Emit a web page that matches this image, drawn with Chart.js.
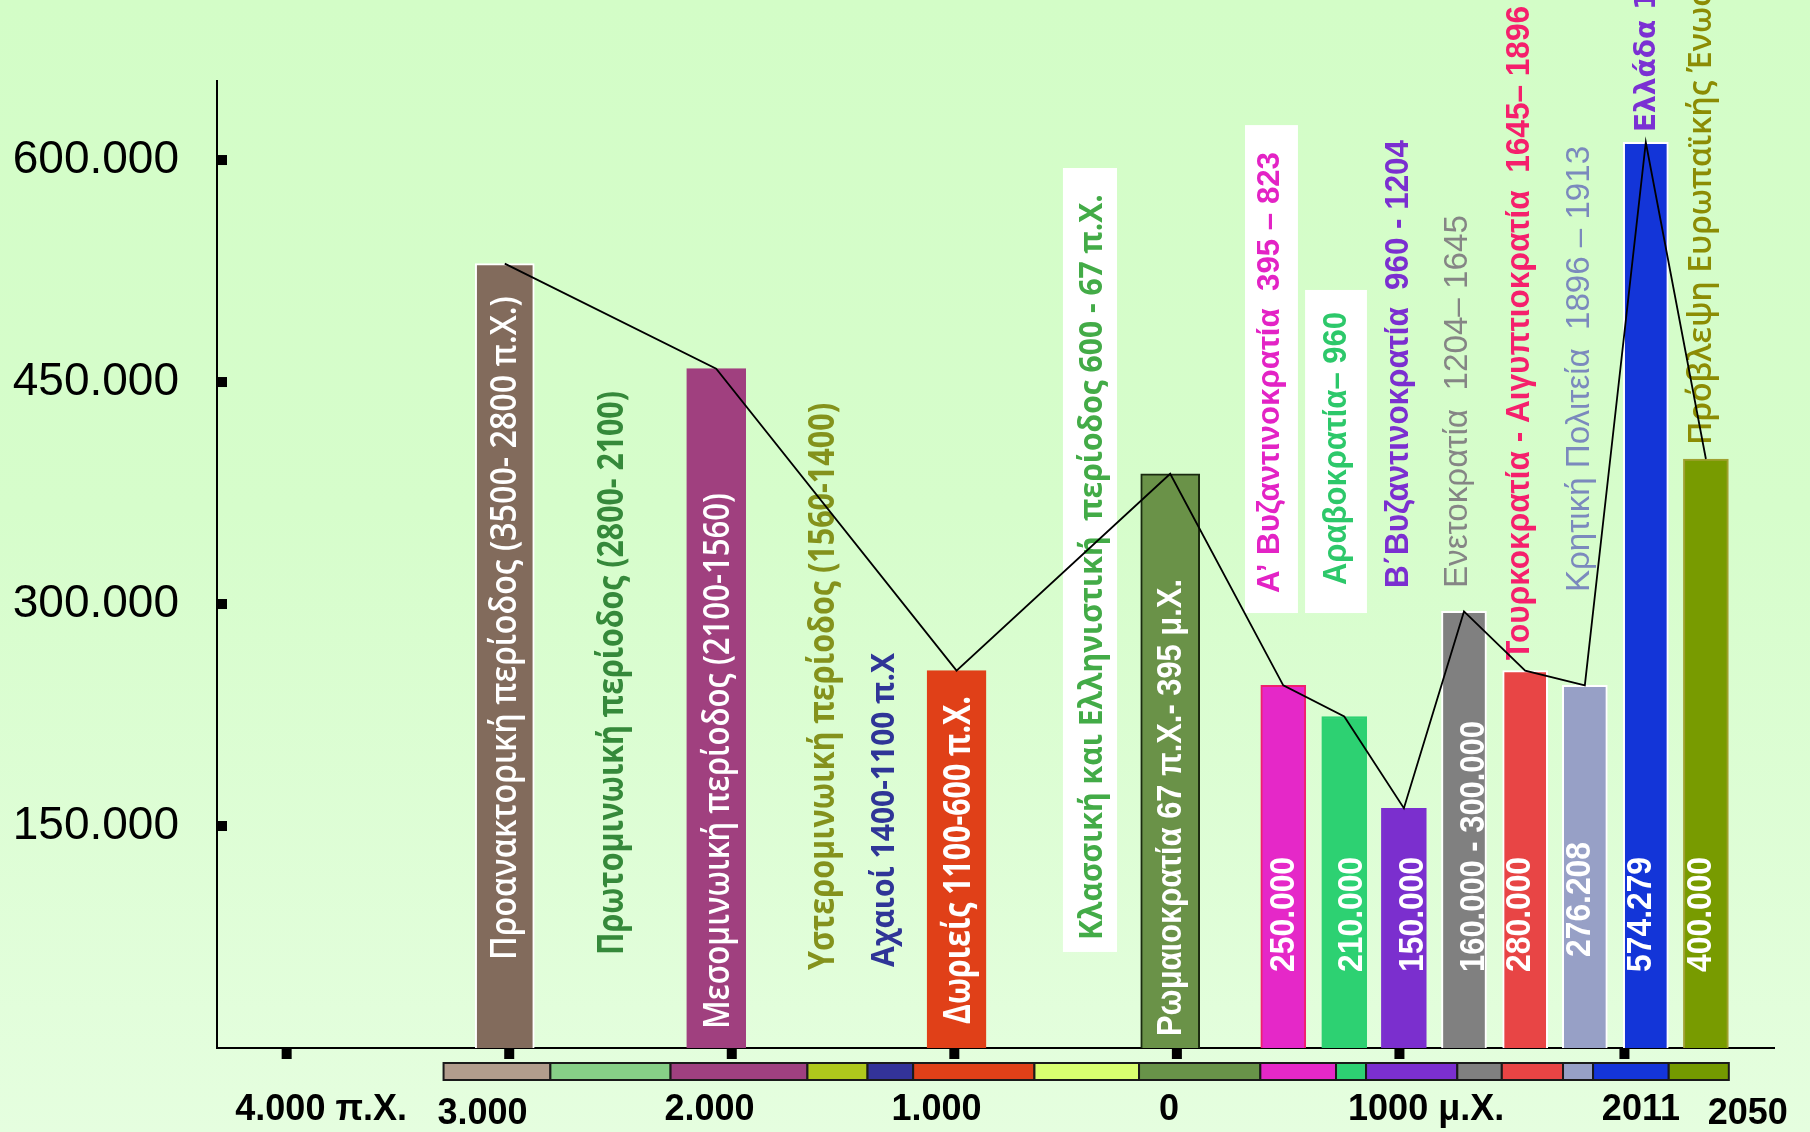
<!DOCTYPE html>
<html lang="el">
<head>
<meta charset="UTF-8">
<title>Πληθυσμός της Κρήτης</title>
<script src="https://cdn.jsdelivr.net/npm/chart.js"></script>
<style>
  html, body { margin: 0; padding: 0; }
  body {
    width: 1810px; height: 1132px; overflow: hidden;
    background: linear-gradient(to bottom, #d3fdc7 0%, #d6fdcb 45%, #e5fedf 100%);
  }
  canvas { display: block; }
</style>
</head>
<body>
<canvas id="popChart" width="1810" height="1132"></canvas>
<script>
// bars: position along the timeline (as drawn) and height
const periods = ['Προανακτορική', 'Μεσομινωική', 'Δωριείς', 'Ρωμαιοκρατία',
                 'Α΄ Βυζαντινοκρατία', 'Αραβοκρατία', 'Β΄ Βυζαντινοκρατία', 'Ενετοκρατία',
                 'Τουρκοκρατία', 'Κρητική Πολιτεία', 'Ελλάδα 2011', 'Πρόβλεψη 2050'];
const timeline = [-3020, -2070, -990, -30, 478, 752, 1020, 1290, 1565, 1833, 2107, 2377];
const population = [530000, 459000, 255000, 388000, 245000, 224000, 162000, 295000, 255000, 245000, 612000, 398000];
const valueLabels = ['', '', '', '', '250.000', '210.000', '150.000', '160.000 - 300.000',
                     '280.000', '276.208', '574.279', '400.000'];

const barColors = ['#826b5c', '#a0407f', '#e04018', '#6a9248', '#e528c8', '#2dd172',
                   '#7b2fce', '#808080', '#e84545', '#97a0c6', '#1335d8', '#789b00'];
const barBorders = ['#ffffff', '#a0407f', '#e04018', '#1a2a10', '#f0206e', '#2dd172',
                    '#7b2fce', '#ffffff', '#ffffff', '#ffffff', '#ffffff', '#a0a030'];

const yTicks = [150000, 300000, 450000, 600000];
const xTickYears = [-4000, -3000, -2000, -1000, 0, 1000, 2011];
const xLabels = ['4.000 π.Χ.', '3.000', '2.000', '1.000', '0', '1000 μ.Χ.', '2011', '2050'];
const xLabelAt = [-3845, -3120, -2100, -1080, -35, 1120, 2085, 2565];

// coloured period strip under the axis
const stripEdges = [-3295, -2815, -2275, -1660, -1390, -1185, -640, -170, 375, 715, 850,
                    1260, 1460, 1735, 1870, 2210, 2480];
const stripColors = ['#b29d8d', '#87cf87', '#9f4080', '#afc81c', '#333399', '#e04018',
                     '#d9ff70', '#689349', '#e528c8', '#2dd172', '#7b2fcf', '#808080',
                     '#e84444', '#97a0c6', '#1435d9', '#749a00'];

const fmt = v => Math.round(v).toLocaleString('de-DE');

// vertical texts: x on the timeline, from/to along the value axis
const OS = '"Open Sans", "Noto Sans", sans-serif';
const AR = '"Liberation Sans", Arial, sans-serif';
const notes = [
  { text: 'Προανακτορική περίοδος (3500- 2800 π.Χ.)', x: -3014, from: 59500, to: 508000, color: '#ffffff', font: '600 36px ' + OS },
  { text: 'Πρωτομινωική περίοδος (2800- 2100)', x: -2534, from: 62800, to: 443900, color: '#35893a', font: 'bold 36px ' + OS },
  { text: 'Μεσομινωική περίοδος (2100-1560)', x: -2057, from: 12800, to: 375000, color: '#ffffff', font: '600 36px ' + OS },
  { text: 'Υστερομινωική περίοδος (1560-1400)', x: -1586, from: 52700, to: 435800, color: '#84921c', font: 'bold 36px ' + OS },
  { text: 'Αχαιοί 1400-1100 π.Χ', x: -1312, from: 54700, to: 266900, color: '#2f3597', font: 'bold 33px ' + OS },
  { text: 'Δωριείς 1100-600 π.Χ.', x: -975, from: 16200, to: 237800, color: '#ffffff', font: 'bold 37px ' + OS },
  { text: 'Κλασσική και Ελληνιστική  περίοδος 600 - 67 π.Χ.', x: -377, from: 73000, to: 577000, color: '#43ab47', font: 'bold 33px ' + OS },
  { text: 'Ρωμαιοκρατία 67 π.Χ.- 395 μ.Χ.', x: -27, from: 8100, to: 316900, color: '#ffffff', font: 'bold 35px ' + AR },
  { text: 'Α’ Βυζαντινοκρατία  395 – 823', x: 418, from: 307400, to: 605400, color: '#e323c5', font: 'bold 32px ' + AR },
  { text: 'Αραβοκρατία– 960', x: 719, from: 312800, to: 497300, color: '#2dc86a', font: 'bold 34px ' + AR },
  { text: 'Β΄Βυζαντινοκρατία  960 - 1204', x: 998, from: 310800, to: 613500, color: '#7b2fd0', font: 'bold 34px ' + AR },
  { text: 'Ενετοκρατία  1204– 1645', x: 1263, from: 310800, to: 562800, color: '#858585', font: '34px ' + AR },
  { text: 'Τουρκοκρατία - Αιγυπτιοκρατία  1645– 1896', x: 1542, from: 262200, to: 704100, color: '#f5206c', font: 'bold 34px ' + AR },
  { text: 'Κρητική Πολιτεία  1896 – 1913', x: 1811, from: 308100, to: 609500, color: '#7b89bd', font: '34px ' + AR },
  { text: 'Ελλάδα 1913 – 2011', x: 2117, from: 618900, color: '#7b30d3', font: 'bold 28px "DejaVu Sans", sans-serif' },
  { text: 'Πρόβλεψη Ευρωπαϊκής Ένωσης 2050', x: 2359, from: 407400, color: '#8c8c04', font: '600 32px ' + OS }
];
const noteBoxes = [
  { x0: -512, x1: -269, top: 594600, bottom: 64900 },
  { x0: 306, x1: 544, top: 623600, bottom: 293900 },
  { x0: 576, x1: 854, top: 512200, bottom: 293900 }
];
// number labels inside the bars
const valueFrom = [0, 0, 0, 0, 51400, 51400, 51400, 51400, 51400, 61500, 51400, 51400];
const valueTo = [0, 0, 0, 0, 129100, 129100, 129100, 220900, 129100, 139200, 129100, 129100];
const valueX = [0, 0, 0, 0, 481, 787, 1061, 1335, 1542, 1811, 2085, 2355];

function drawVertical(ctx, text, cx, yb, len, color, font) {
  ctx.save();
  ctx.font = font;
  ctx.fillStyle = color;
  ctx.translate(cx, yb);
  ctx.rotate(-Math.PI / 2);
  if (len) ctx.scale(len / ctx.measureText(text).width, 1);
  ctx.textAlign = 'left';
  ctx.textBaseline = 'middle';
  ctx.fillText(text, 0, 0);
  ctx.restore();
}

const decorations = {
  id: 'decorations',
  beforeDatasetDraw(chart, args) {
    if (args.index !== 0) return;   // draw texts after bars, before the line
    const { ctx, scales: { x, y } } = chart;
    ctx.save();
    ctx.fillStyle = '#ffffff';
    noteBoxes.forEach(b => {
      const l = x.getPixelForValue(b.x0), r = x.getPixelForValue(b.x1);
      const t = y.getPixelForValue(b.top), btm = y.getPixelForValue(b.bottom);
      ctx.fillRect(l, t, r - l, btm - t);
    });
    ctx.restore();
    notes.forEach(n => {
      const yb = y.getPixelForValue(n.from);
      const len = n.to !== undefined ? yb - y.getPixelForValue(n.to) : 0;
      drawVertical(ctx, n.text, x.getPixelForValue(n.x), yb, len, n.color, n.font);
    });
    valueLabels.forEach((t, i) => {
      if (!t) return;
      const yb = y.getPixelForValue(valueFrom[i]);
      drawVertical(ctx, t, x.getPixelForValue(valueX[i]), yb, yb - y.getPixelForValue(valueTo[i]),
                   '#ffffff', 'bold 35px ' + AR);
    });
  },
  afterDraw(chart) {
    const { ctx, chartArea: a, scales: { x, y } } = chart;
    ctx.save();
    ctx.fillStyle = '#000';
    // square tick marks
    yTicks.forEach(v => ctx.fillRect(a.left, y.getPixelForValue(v) - 5, 10, 10));
    xTickYears.forEach(v => ctx.fillRect(x.getPixelForValue(v) - 5, a.bottom + 1, 10, 10));
    // period strip
    for (let i = 0; i < stripColors.length; i++) {
      const l = x.getPixelForValue(stripEdges[i]), r = x.getPixelForValue(stripEdges[i + 1]);
      ctx.fillStyle = stripColors[i];
      ctx.fillRect(l, a.bottom + 15, r - l, 17);
      ctx.strokeStyle = '#1a1a1a';
      ctx.lineWidth = 2;
      ctx.strokeRect(l, a.bottom + 15, r - l, 17);
    }
    // timeline labels
    ctx.fillStyle = '#000';
    ctx.font = 'bold 36px ' + AR;
    ctx.textAlign = 'center';
    ctx.textBaseline = 'middle';
    xLabels.forEach((t, i) => {
      ctx.fillText(t, x.getPixelForValue(xLabelAt[i]), a.bottom + (i === 1 || i === 7 ? 66 : 62));
    });
    ctx.restore();
  }
};

const pts = timeline.map((t, i) => ({ x: t, y: population[i] }));

new Chart(document.getElementById('popChart'), {
  type: 'bar',
  data: {
    datasets: [
      {
        type: 'line',
        data: pts,
        borderColor: '#000',
        borderWidth: 1.8,
        pointRadius: 0,
        tension: 0,
        fill: false
      },
      {
        data: pts.slice(0, 4),
        backgroundColor: barColors.slice(0, 4),
        borderColor: barBorders.slice(0, 4),
        borderWidth: 2,
        barThickness: 59
      },
      {
        data: pts.slice(4),
        backgroundColor: barColors.slice(4),
        borderColor: barBorders.slice(4),
        borderWidth: 2,
        barThickness: 45
      }
    ]
  },
  options: {
    responsive: false,
    animation: false,
    devicePixelRatio: 1,
    layout: { padding: { top: 81, right: 36, bottom: 84, left: 0 } },
    plugins: { legend: { display: false }, tooltip: { enabled: false } },
    datasets: { bar: { grouped: false } },
    scales: {
      x: {
        type: 'linear',
        min: -4313,
        max: 2683,
        offset: false,
        grid: { display: false, drawTicks: false },
        border: { display: true, color: '#000', width: 2 },
        ticks: { display: false },
        afterFit: s => { s.height = 0; }
      },
      y: {
        min: 0,
        max: 653400,
        grid: { display: false, drawTicks: false },
        border: { display: true, color: '#000', width: 2 },
        afterBuildTicks: s => { s.ticks = yTicks.map(v => ({ value: v })); },
        afterFit: s => { s.width = 217; },
        ticks: {
          color: '#000',
          padding: 38,
          font: { family: AR, size: 46 },
          callback: v => fmt(v)
        }
      }
    }
  },
  plugins: [decorations]
});
</script>
</body>
</html>
